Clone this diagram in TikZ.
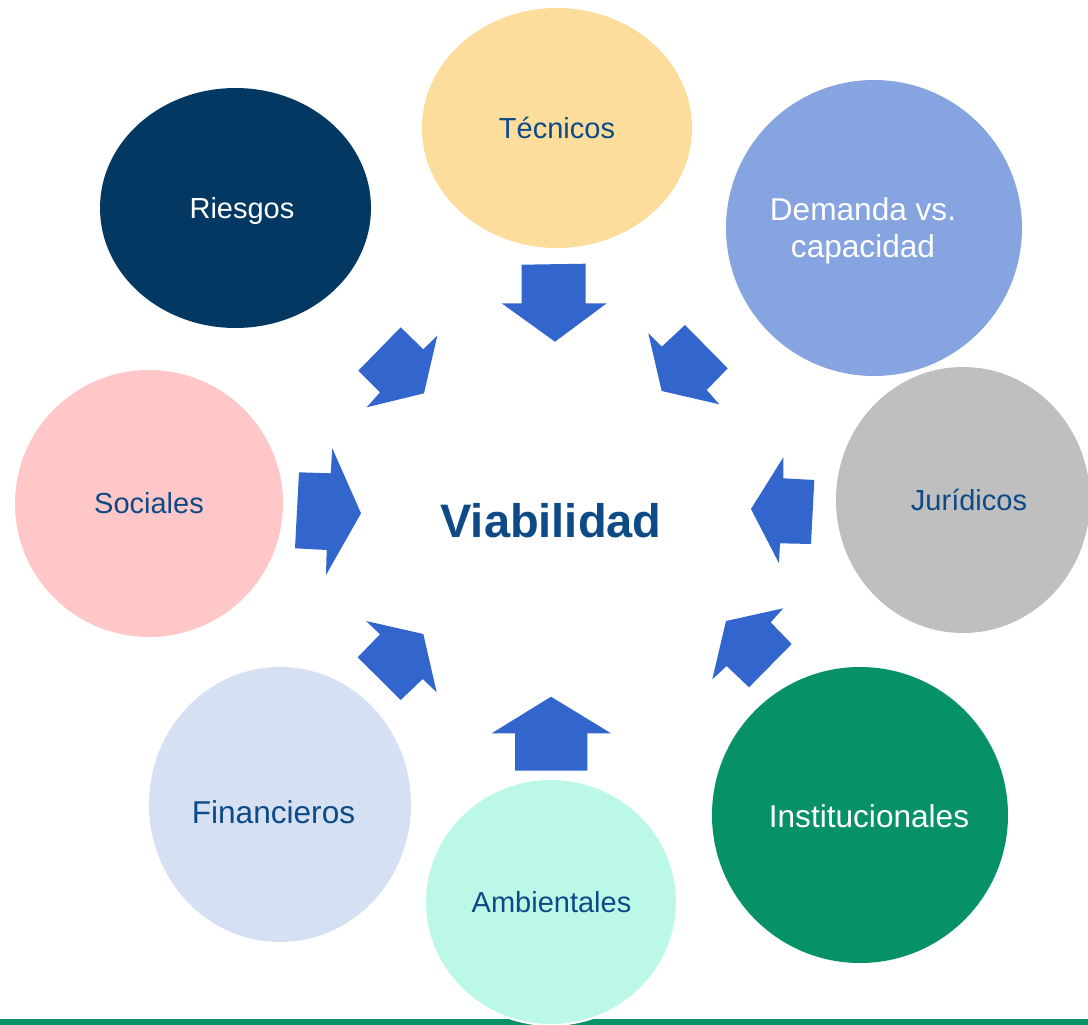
\documentclass[tikz,border=0pt]{standalone}
\usepackage{fontspec}
\setmainfont{Liberation Sans}
\usetikzlibrary{shapes.geometric}
\definecolor{cTec}{HTML}{FDDD9B}
\definecolor{cRie}{HTML}{033862}
\definecolor{cDem}{HTML}{86A4E0}
\definecolor{cJur}{HTML}{BFBFBF}
\definecolor{cSoc}{HTML}{FFC7C7}
\definecolor{cFin}{HTML}{D6E0F3}
\definecolor{cAmb}{HTML}{BCF8E8}
\definecolor{cIns}{HTML}{079169}
\definecolor{cArr}{HTML}{3366CC}
\definecolor{cTxt}{HTML}{0D4A86}
\tikzset{
  bubble/.style={ellipse, draw=none, inner sep=0pt},
  lbl/.style={anchor=base, inner sep=0pt, font=\fontsize{29}{34}\selectfont, text=cTxt},
  lblbig/.style={anchor=base, inner sep=0pt, font=\fontsize{31.6}{37}\selectfont, text=cTxt, align=center},
  blockarrow/.style={fill=cArr, draw=none},
}
\begin{document}
\begin{tikzpicture}[x=1pt,y=-1pt]
\useasboundingbox (0,0) rectangle (1088,1025);
\fill[white] (0,0) rectangle (1088,1025);
% bottom line
\fill[cIns] (0,1019) rectangle (1088,1025);
% bubbles
\node[bubble, fill=cTec, minimum width=270pt, minimum height=240pt] (tec) at (557,128) {};
\node[bubble, fill=cRie, minimum width=271pt, minimum height=240pt] (rie) at (235.5,208) {};
\node[bubble, fill=cDem, minimum width=296pt, minimum height=296pt] (dem) at (874,228) {};
\node[bubble, fill=cJur, minimum width=254pt, minimum height=266pt] (jur) at (963,500) {};
\node[bubble, fill=cSoc, minimum width=268pt, minimum height=267pt] (soc) at (149,503.5) {};
\node[bubble, fill=cFin, minimum width=262pt, minimum height=275pt] (fin) at (280,804.5) {};
\node[bubble, fill=cAmb, draw=white, line width=2pt, minimum width=252pt, minimum height=246pt] (amb) at (551,902) {};
\node[bubble, fill=cIns, minimum width=296pt, minimum height=296pt] (ins) at (860,815) {};
% labels
\node[lbl] (ltec) at (557,138.5) {Técnicos};
\node[lbl, text=white] (lrie) at (242,218.5) {Riesgos};
\node[lblbig, text=white] (ldem) at (863,257) {Demanda vs.\\capacidad};
\node[lbl] (ljur) at (969,510.5) {Jurídicos};
\node[lbl] (lsoc) at (149,513.5) {Sociales};
\node[lblbig] (lfin) at (273.5,823) {Financieros};
\node[lbl] (lamb) at (551.5,912.5) {Ambientales};
\node[lblbig, text=white] (lins) at (869,827) {Institucionales};
\node[anchor=base, inner sep=0pt, font=\fontsize{47}{54}\selectfont\bfseries, text=cTxt] (via) at (551,537) {Viabilidad};
% arrows
% top (down)
\fill[blockarrow] (521.7,264.7) -- (585.7,263.7) -- (585.7,303.3) -- (606.7,303.3) -- (555,341.7) -- (501.7,303.3) -- (521.7,303.3) -- cycle;
% bottom (up)
\fill[blockarrow] (515,770.7) -- (587.3,770.7) -- (587.3,733.3) -- (611,733.3) -- (551,696.7) -- (491.7,733.3) -- (515,733.3) -- cycle;
% left (right-pointing)
\fill[blockarrow] (299,472.3) -- (330.7,473.3) -- (332.3,448.3) -- (361,513.3) -- (326,575) -- (326.7,550) -- (295,548.3) -- cycle;
% right (left-pointing)
\fill[blockarrow] (814.3,480) -- (783.3,478.3) -- (783.3,457.3) -- (751,509) -- (779,563.3) -- (780,543.3) -- (811,544) -- cycle;
% upper-left
\fill[blockarrow] (400.7,327.3) -- (423.3,349.3) -- (437.3,335.7) -- (424,393.3) -- (366.7,407.3) -- (380,392.3) -- (358.3,370.7) -- cycle;
% upper-right
\fill[blockarrow] (685,325) -- (661.7,346.7) -- (648.3,333.3) -- (661.7,391) -- (719.3,404.3) -- (706.7,390) -- (727.7,368.3) -- cycle;
% lower-left
\fill[blockarrow] (357.7,657.3) -- (380,634.3) -- (366,621) -- (423.3,634) -- (436.7,692.3) -- (422.7,679) -- (400.7,700) -- cycle;
% lower-right
\fill[blockarrow] (791.7,644) -- (770.7,622.3) -- (783.3,608.3) -- (726,621) -- (712.3,679.3) -- (726.7,666) -- (749,687.3) -- cycle;
\end{tikzpicture}
\end{document}
